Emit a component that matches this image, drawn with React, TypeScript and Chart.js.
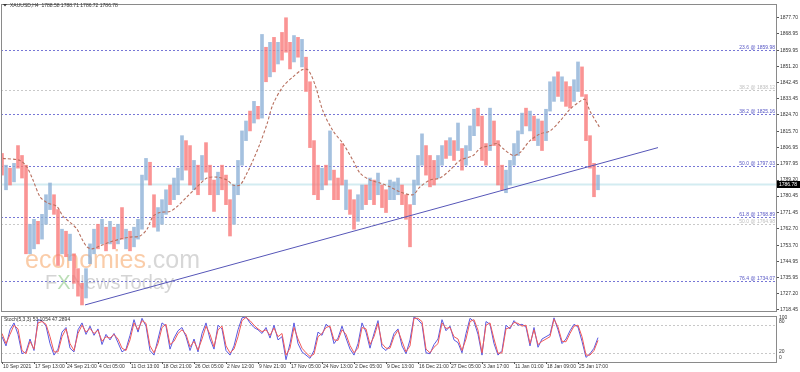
import React, { useEffect, useRef } from "react";
import { Chart, registerables } from "chart.js";
Chart.register(...registerables);

// ---------- DATA ----------
const title = "XAUUSD,H4  1788.58 1788.71 1786.72 1786.78";
const stochTitle = "Stoch(5,3,3) 53.1054 47.2894";

// aggregated H4 candles (each column ~ 4 bars): highs / lows / direction (1 = bullish blue, 0 = bearish red)
const highs = [
  1803.7, 1797.3, 1795.7, 1798.3, 1808.0, 1802.6, 1797.3, 1765.1, 1767.8, 1766.7,
  1770.5, 1781.2, 1787.6, 1781.2, 1773.1, 1762.4, 1761.3, 1759.7, 1749.0, 1740.9,
  1732.9, 1740.9, 1754.4, 1762.4, 1765.1, 1767.8, 1763.5, 1766.7, 1763.5, 1765.1,
  1774.2, 1762.4, 1761.3, 1763.5, 1767.8, 1791.9, 1801.0, 1798.9, 1781.2, 1774.2,
  1778.5, 1783.9, 1786.5, 1790.3, 1795.7, 1813.4, 1810.7, 1808.0, 1799.9, 1797.3,
  1802.6, 1809.6, 1797.3, 1789.2, 1793.5, 1797.3, 1791.9, 1778.5, 1786.5, 1799.9,
  1816.0, 1821.4, 1826.8, 1832.1, 1829.4, 1868.6, 1861.6, 1864.3, 1867.0, 1864.3,
  1869.7, 1877.7, 1864.3, 1868.0, 1867.0, 1865.9, 1856.2, 1842.8, 1810.7, 1797.3,
  1795.7, 1797.3, 1816.0, 1794.6, 1790.3, 1809.1, 1789.2, 1783.9, 1778.5, 1781.2,
  1786.5, 1786.5, 1790.3, 1789.2, 1793.0, 1786.5, 1783.9, 1789.2, 1788.2, 1790.3,
  1786.5, 1781.2, 1775.8, 1789.2, 1802.6, 1814.4, 1808.0, 1802.6, 1799.9, 1802.6,
  1808.0, 1810.7, 1812.3, 1810.7, 1820.3, 1806.4, 1808.0, 1818.7, 1827.8, 1828.4,
  1824.1, 1809.1, 1828.4, 1821.4, 1810.7, 1797.3, 1794.6, 1799.9, 1809.1, 1816.0,
  1825.7, 1828.4, 1826.8, 1824.1, 1822.5, 1821.4, 1827.8, 1842.8, 1845.5, 1848.2,
  1845.5, 1842.8, 1840.2, 1843.9, 1853.6, 1850.9, 1835.8, 1813.4, 1798.3, 1791.9,
];
const lows = [
  1791.9, 1783.9, 1786.5, 1788.2, 1795.7, 1790.3, 1749.0, 1749.0, 1751.7, 1754.4,
  1757.0, 1765.1, 1773.1, 1770.5, 1742.6, 1749.0, 1747.4, 1745.3, 1732.9, 1725.9,
  1721.1, 1724.9, 1743.6, 1749.0, 1751.7, 1754.4, 1750.6, 1754.4, 1751.7, 1754.4,
  1757.0, 1751.7, 1750.6, 1752.8, 1757.0, 1762.4, 1789.2, 1786.5, 1763.5, 1761.3,
  1765.1, 1770.5, 1775.8, 1778.5, 1781.2, 1789.2, 1794.6, 1786.5, 1783.9, 1781.2,
  1789.2, 1793.5, 1781.2, 1772.1, 1781.2, 1783.9, 1775.8, 1758.7, 1765.1, 1781.2,
  1797.3, 1810.7, 1816.0, 1820.3, 1822.5, 1823.0, 1842.8, 1845.5, 1848.2, 1852.5,
  1854.6, 1858.9, 1849.8, 1853.6, 1856.2, 1850.9, 1837.5, 1806.9, 1781.2, 1778.5,
  1783.9, 1786.5, 1789.2, 1778.5, 1778.5, 1786.5, 1773.1, 1770.5, 1762.4, 1766.7,
  1773.1, 1775.8, 1778.5, 1775.8, 1781.2, 1774.2, 1771.5, 1778.5, 1778.5, 1781.2,
  1775.8, 1767.8, 1752.8, 1775.8, 1786.5, 1797.3, 1791.9, 1785.5, 1786.5, 1790.3,
  1797.3, 1801.0, 1802.6, 1799.9, 1805.3, 1794.6, 1797.3, 1805.3, 1813.4, 1818.7,
  1799.9, 1797.3, 1805.3, 1808.0, 1786.5, 1783.9, 1782.3, 1786.5, 1797.3, 1802.6,
  1814.4, 1818.7, 1816.0, 1810.7, 1808.0, 1805.3, 1810.7, 1826.8, 1832.1, 1834.8,
  1832.1, 1829.4, 1828.4, 1832.1, 1837.5, 1834.8, 1810.7, 1795.7, 1780.1, 1783.9,
];
const bull = [
  0, 1, 0, 1, 0, 0, 0, 1, 1, 0,
  1, 1, 1, 0, 0, 1, 0, 1, 0, 0,
  0, 1, 1, 1, 0, 1, 0, 1, 0, 1,
  0, 1, 0, 1, 1, 1, 1, 0, 0, 1,
  1, 1, 0, 1, 1, 1, 0, 0, 1, 0,
  1, 0, 0, 0, 1, 0, 0, 0, 1, 1,
  1, 1, 0, 1, 0, 1, 0, 1, 0, 1,
  0, 0, 0, 1, 0, 1, 0, 0, 0, 0,
  1, 0, 1, 0, 0, 0, 1, 0, 0, 1,
  1, 0, 1, 0, 1, 0, 0, 1, 1, 1,
  0, 0, 0, 1, 1, 1, 0, 0, 0, 1,
  1, 0, 1, 0, 1, 0, 1, 1, 1, 0,
  0, 0, 1, 0, 0, 0, 1, 1, 1, 1,
  1, 0, 1, 0, 1, 0, 1, 1, 1, 0,
  1, 0, 0, 1, 1, 0, 0, 0, 0, 1,
];

// moving average (dashed) sampled points: position (column index) and value
const maX = [
  0.25, 4.5, 6.25, 7.75, 9.5, 11.25, 13.75, 15.25, 17, 18.75,
  20, 21.25, 22.5, 24.5, 27, 29.5, 32, 34.5, 36.25, 37.75,
  39.5, 42, 43.75, 46.25, 48.75, 51.25, 53.75, 56.25, 57.75, 59.5,
  61.25, 62.75, 64.5, 66.25, 67.75, 70.25, 72.75, 75, 76.5, 78.25,
  80.25, 82.75, 85.25, 87.75, 89.5, 92, 94.5, 97, 99.5, 102.75,
  104.5, 107, 109.5, 112, 114.5, 117.75, 119.5, 122, 123.75, 125.25,
  127.75, 129.5, 132, 134.5, 137, 139.5, 142, 144.5, 145.75, 147, 149.5,
];
const maY = [
  1801.0, 1799.9, 1796.2, 1789.2, 1780.1, 1776.9, 1774.7, 1769.4, 1766.2, 1762.4,
  1757.0, 1752.8, 1751.7, 1753.3, 1755.4, 1757.0, 1758.1, 1758.7, 1762.4, 1769.4,
  1771.5, 1772.1, 1774.7, 1780.1, 1785.5, 1790.3, 1790.8, 1789.2, 1786.5, 1786.5,
  1793.0, 1799.9, 1809.1, 1819.8, 1830.5, 1840.2, 1845.5, 1849.3, 1849.3, 1841.2,
  1826.8, 1816.0, 1809.1, 1799.9, 1793.0, 1789.2, 1787.6, 1785.5, 1782.8, 1781.2,
  1785.5, 1789.2, 1790.3, 1794.6, 1799.9, 1802.6, 1806.4, 1808.0, 1809.1, 1806.4,
  1802.6, 1804.2, 1810.7, 1814.4, 1816.0, 1821.4, 1827.8, 1832.1, 1833.2, 1826.8, 1817.6,
];

// trendline endpoints
const trendX = [20.75, 164];
const trendY = [1721.1, 1806.9];

// fibonacci levels
const fibLevels = [1859.98, 1838.12, 1825.16, 1797.03, 1768.89, 1764.98, 1734.07];
const fibLabels = [
  "23.6 @ 1859.98", "38.2 @ 1838.12", "38.2 @ 1825.16", "50.0 @ 1797.03",
  "61.8 @ 1768.89", "50.0 @ 1764.98", "76.4 @ 1734.07",
];
const fibMuted = [false, true, false, false, false, true, false];

const lastPrice = 1786.78;
const priceTicks = [
  1877.70, 1868.95, 1859.95, 1851.20, 1842.45, 1833.45, 1824.70, 1815.70, 1806.95, 1797.95,
  1789.20, 1780.45, 1771.45, 1762.70, 1753.70, 1744.95, 1735.95, 1727.20, 1718.45,
];

// stochastic (5,3,3)
const stochK = [
  55, 35, 70, 85, 60, 18, 22, 50, 25, 92,
  90, 78, 40, 15, 28, 65, 75, 30, 22, 70,
  85, 60, 78, 58, 72, 38, 60, 48, 62, 42,
  22, 28, 58, 92, 65, 95, 78, 25, 15, 50,
  85, 78, 28, 52, 68, 75, 55, 25, 50, 22,
  62, 85, 50, 28, 80, 72, 25, 15, 35, 70,
  96, 98, 85, 75, 70, 62, 75, 52, 80, 48,
  55, 5, 40, 85, 40, 22, 15, 8, 25, 65,
  58, 82, 75, 40, 52, 78, 52, 28, 15, 40,
  85, 65, 30, 62, 90, 32, 25, 35, 62, 72,
  35, 18, 48, 98, 92, 82, 20, 18, 38, 50,
  92, 68, 78, 48, 42, 20, 62, 95, 88, 60,
  15, 88, 82, 40, 15, 25, 80, 72, 90, 80,
  82, 76, 35, 75, 32, 50, 55, 60, 96, 70,
  40, 50, 68, 82, 76, 45, 10, 18, 30, 53,
];
const stochD = [
  62, 40, 60, 80, 72, 25, 18, 45, 28, 85,
  88, 82, 55, 22, 22, 55, 72, 40, 25, 62,
  80, 65, 73, 62, 69, 45, 55, 52, 60, 50,
  30, 25, 48, 85, 70, 90, 84, 35, 20, 40,
  75, 82, 38, 45, 62, 70, 60, 33, 45, 26,
  50, 78, 60, 33, 70, 78, 35, 20, 28, 55,
  90, 97, 90, 80, 72, 66, 70, 58, 74, 55,
  62, 15, 30, 75, 50, 30, 20, 12, 17, 55,
  62, 75, 78, 48, 47, 70, 60, 36, 20, 30,
  75, 72, 38, 55, 84, 40, 30, 30, 55, 69,
  45, 22, 35, 95, 95, 88, 28, 20, 32, 40,
  85, 73, 75, 55, 50, 25, 50, 88, 92, 69,
  20, 80, 85, 50, 19, 20, 72, 75, 86, 84,
  78, 80, 40, 70, 38, 45, 50, 55, 93, 76,
  45, 44, 62, 78, 80, 55, 15, 15, 25, 47,
];
const stochLevels = [80, 20];
const stochAxisLabels = ["100", "80", "20", "0"];
const stochAxisValues = [100, 80, 20, 0];

// time axis
const dateTickIdx = [0, 8, 16, 24, 32, 40, 48, 56, 64, 72, 80, 88, 96, 104, 112, 120, 128, 136, 144];
const dateLabels = [
  "10 Sep 2021", "17 Sep 13:00", "24 Sep 21:00", "4 Oct 05:00", "11 Oct 13:00", "18 Oct 21:00",
  "26 Oct 05:00", "2 Nov 12:00", "9 Nov 21:00", "17 Nov 05:00", "24 Nov 13:00", "2 Dec 05:00",
  "9 Dec 13:00", "16 Dec 21:00", "27 Dec 05:00", "3 Jan 17:00", "11 Jan 01:00", "18 Jan 09:00",
  "25 Jan 17:00",
];

// ---------- STYLE ----------
const X_MIN = -0.25;
const X_MAX = 193.5;
const Y_MIN = 1717.8;
const Y_MAX = 1885.2;
const FAM = '"Liberation Sans", Arial, sans-serif';
const SMALL = `5px ${FAM}`;
const RED = "rgba(248,118,118,0.78)";
const BLUE = "rgba(140,176,214,0.78)";
const FRAME = "#8a8a8a";
const TEXT = "#333333";

const mainPlugin = {
  id: "mainDeco",
  beforeDatasetsDraw(chart: any) {
    const { ctx, chartArea: a, scales } = chart;
    const y = scales.y;
    ctx.save();
    // watermark
    ctx.textBaseline = "alphabetic";
    ctx.textAlign = "left";
    ctx.font = `25px ${FAM}`;
    ctx.fillStyle = "rgba(247,170,110,0.6)";
    ctx.fillText("economies", 25, 268);
    const w1 = ctx.measureText("economies").width;
    ctx.fillStyle = "rgba(175,175,175,0.5)";
    ctx.fillText(".com", 25 + w1, 268);
    ctx.font = `20px ${FAM}`;
    ctx.fillStyle = "rgba(170,170,170,0.5)";
    ctx.fillText("F", 45, 289);
    const wf = ctx.measureText("F").width;
    ctx.fillStyle = "rgba(120,190,110,0.5)";
    ctx.fillText("X", 45 + wf, 289);
    const wx = ctx.measureText("X").width;
    ctx.fillStyle = "rgba(170,170,170,0.5)";
    ctx.fillText("NewsToday", 45 + wf + wx, 289);

    // last price line
    const yp = y.getPixelForValue(lastPrice);
    ctx.strokeStyle = "#d3ecf1";
    ctx.lineWidth = 2;
    ctx.beginPath();
    ctx.moveTo(a.left, yp);
    ctx.lineTo(a.right, yp);
    ctx.stroke();

    // fib lines
    ctx.lineWidth = 1;
    ctx.setLineDash([2, 2]);
    fibLevels.forEach((lv, i) => {
      const yy = Math.round(y.getPixelForValue(lv)) + 0.5;
      ctx.strokeStyle = fibMuted[i] ? "#c9c9c9" : "#7777d6";
      ctx.beginPath();
      ctx.moveTo(a.left, yy);
      ctx.lineTo(a.right, yy);
      ctx.stroke();
    });
    ctx.restore();
  },
  afterDatasetsDraw(chart: any) {
    const { ctx, chartArea: a, scales } = chart;
    const y = scales.y;
    ctx.save();
    ctx.font = SMALL;
    ctx.textAlign = "right";
    ctx.textBaseline = "bottom";
    fibLevels.forEach((lv, i) => {
      const yy = Math.round(y.getPixelForValue(lv));
      ctx.fillStyle = fibMuted[i] ? "#bdbdbd" : "#5555c4";
      ctx.fillText(fibLabels[i], a.right - 1, yy + 0.5);
    });
    // frame
    ctx.strokeStyle = FRAME;
    ctx.lineWidth = 1;
    ctx.strokeRect(a.left + 0.5, a.top + 0.5, a.right - a.left, a.bottom - a.top);
    // title
    ctx.fillStyle = TEXT;
    ctx.beginPath();
    ctx.moveTo(3, 4);
    ctx.lineTo(7, 4);
    ctx.lineTo(5, 6.5);
    ctx.closePath();
    ctx.fill();
    ctx.textAlign = "left";
    ctx.textBaseline = "middle";
    ctx.fillText(title, 10, 5.5);
    // last price box
    const yp = y.getPixelForValue(lastPrice);
    ctx.fillStyle = "#000";
    ctx.fillRect(a.right + 1, yp - 3.5, 23, 7);
    ctx.fillStyle = "#fff";
    ctx.fillText(lastPrice.toFixed(2), a.right + 3, yp);
    ctx.restore();
  },
};

const stochPlugin = {
  id: "stochDeco",
  beforeDatasetsDraw(chart: any) {
    const { ctx, chartArea: a, scales } = chart;
    ctx.save();
    ctx.setLineDash([2, 2]);
    ctx.strokeStyle = "#c8c8c8";
    ctx.lineWidth = 1;
    stochLevels.forEach((lv) => {
      const yy = Math.round(scales.y.getPixelForValue(lv)) + 0.5;
      ctx.beginPath();
      ctx.moveTo(a.left, yy);
      ctx.lineTo(a.right, yy);
      ctx.stroke();
    });
    ctx.restore();
  },
  afterDatasetsDraw(chart: any) {
    const { ctx, chartArea: a, scales } = chart;
    ctx.save();
    ctx.strokeStyle = FRAME;
    ctx.lineWidth = 1;
    ctx.strokeRect(a.left + 0.5, a.top + 0.5, a.right - a.left, a.bottom - a.top);
    ctx.font = SMALL;
    ctx.fillStyle = TEXT;
    ctx.textAlign = "left";
    ctx.textBaseline = "middle";
    ctx.fillText(stochTitle, 4, a.top + 4);
    // right labels
    const offs = [2, -4, -1, -4];
    stochAxisValues.forEach((v, i) => {
      const yy = scales.y.getPixelForValue(v) + offs[i];
      ctx.fillText(stochAxisLabels[i], a.right + 3, yy);
    });
    // time axis labels
    dateTickIdx.forEach((idx, i) => {
      const xx = Math.round(scales.x.getPixelForValue(idx)) + 0.5;
      ctx.strokeStyle = "#555";
      ctx.beginPath();
      ctx.moveTo(xx, a.bottom);
      ctx.lineTo(xx, a.bottom + 2);
      ctx.stroke();
      ctx.fillText(dateLabels[i], xx + 0.5, a.bottom + 4.5);
    });
    ctx.restore();
  },
};

export default function App() {
  const mainRef = useRef<HTMLCanvasElement>(null);
  const stochRef = useRef<HTMLCanvasElement>(null);

  useEffect(() => {
    const candles = highs.map((h, i) => ({ x: i, y: [lows[i], h] }));
    const ma = maX.map((x, i) => ({ x, y: maY[i] }));
    const trend = trendX.map((x, i) => ({ x, y: trendY[i] }));

    const main = new Chart(mainRef.current as HTMLCanvasElement, {
      type: "bar",
      data: {
        datasets: [
          {
            type: "line",
            data: trend,
            borderColor: "#5656b8",
            borderWidth: 1,
            pointRadius: 0,
            order: 0,
          } as any,
          {
            type: "line",
            data: ma,
            borderColor: "#b8705f",
            borderWidth: 1.1,
            borderDash: [3, 2],
            pointRadius: 0,
            tension: 0.3,
            order: 1,
          } as any,
          {
            type: "bar",
            data: candles as any,
            backgroundColor: bull.map((b) => (b ? BLUE : RED)),
            barThickness: 3,
            grouped: false,
            order: 2,
          } as any,
        ],
      },
      options: {
        animation: false,
        responsive: false,
        maintainAspectRatio: false,
        events: [],
        layout: { padding: { left: 1, top: 1, right: 0, bottom: 1 } },
        plugins: { legend: { display: false }, tooltip: { enabled: false } },
        scales: {
          x: { type: "linear", min: X_MIN, max: X_MAX, display: false, offset: false },
          y: {
            position: "right",
            min: Y_MIN,
            max: Y_MAX,
            afterFit: (s: any) => {
              s.width = 24;
            },
            afterBuildTicks: (s: any) => {
              s.ticks = priceTicks.map((v) => ({ value: v }));
            },
            ticks: {
              autoSkip: false,
              font: { size: 5, family: FAM },
              color: TEXT,
              padding: 1,
              callback: (v: any) => Number(v).toFixed(2),
            },
            grid: { drawOnChartArea: false, tickLength: 3, color: "#555" },
            border: { color: FRAME },
          },
        },
      } as any,
      plugins: [mainPlugin],
    });

    const stoch = new Chart(stochRef.current as HTMLCanvasElement, {
      type: "line",
      data: {
        datasets: [
          {
            data: stochD.map((v, i) => ({ x: i, y: v })),
            borderColor: "#f05a5a",
            borderWidth: 1,
            pointRadius: 0,
          },
          {
            data: stochK.map((v, i) => ({ x: i, y: v })),
            borderColor: "#5a5ae0",
            borderWidth: 1,
            pointRadius: 0,
          },
        ],
      },
      options: {
        animation: false,
        responsive: false,
        maintainAspectRatio: false,
        events: [],
        layout: { padding: { left: 1, top: 2, right: 0, bottom: 10 } },
        plugins: { legend: { display: false }, tooltip: { enabled: false } },
        scales: {
          x: { type: "linear", min: X_MIN, max: X_MAX, display: false },
          y: {
            position: "right",
            min: 0,
            max: 100,
            afterFit: (s: any) => {
              s.width = 24;
            },
            ticks: { display: false },
            grid: { display: false },
            border: { display: false },
          },
        },
      } as any,
      plugins: [stochPlugin],
    });

    return () => {
      main.destroy();
      stoch.destroy();
    };
  }, []);

  return (
    <div style={{ position: "fixed", left: 0, top: 0, width: 800, height: 372, background: "#fff" }}>
      <canvas
        ref={mainRef}
        width={800}
        height={315}
        style={{ position: "absolute", left: 0, top: 0, width: 800, height: 315 }}
      />
      <canvas
        ref={stochRef}
        width={800}
        height={58}
        style={{ position: "absolute", left: 0, top: 314, width: 800, height: 58 }}
      />
    </div>
  );
}
